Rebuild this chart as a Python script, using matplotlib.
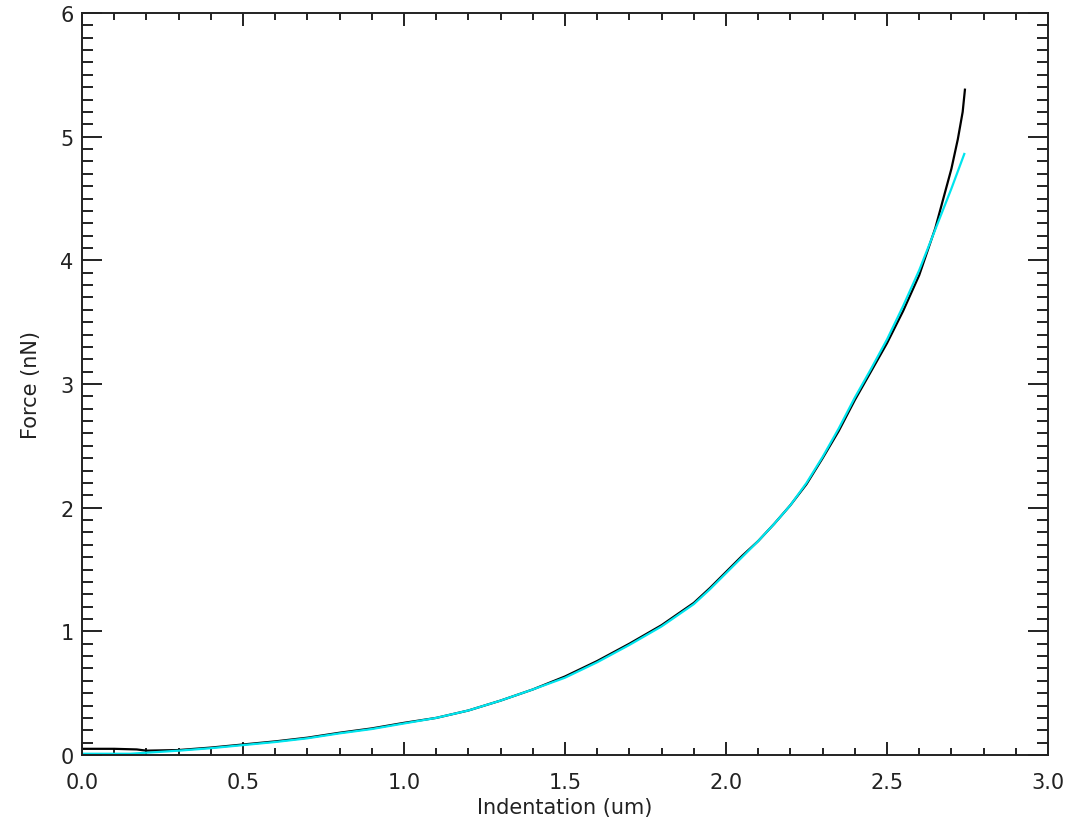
import matplotlib
matplotlib.use("Agg")
import matplotlib.pyplot as plt
from matplotlib.ticker import MultipleLocator

# measured force curve (black)
x_data = [0.0, 0.1, 0.17, 0.2, 0.3, 0.4, 0.5, 0.6, 0.7, 0.8, 0.9, 1.0, 1.1, 1.2,
          1.3, 1.4, 1.5, 1.6, 1.7, 1.8, 1.9, 1.95, 2.0, 2.05, 2.1, 2.15, 2.2,
          2.25, 2.3, 2.35, 2.4, 2.45, 2.5, 2.55, 2.6, 2.65, 2.7, 2.72, 2.735,
          2.742]
f_data = [0.05, 0.05, 0.045, 0.035, 0.04, 0.06, 0.085, 0.11, 0.14, 0.18, 0.215,
          0.26, 0.30, 0.36, 0.44, 0.53, 0.635, 0.76, 0.90, 1.05, 1.23, 1.35,
          1.48, 1.61, 1.73, 1.87, 2.02, 2.19, 2.40, 2.62, 2.87, 3.10, 3.33,
          3.59, 3.88, 4.26, 4.74, 4.98, 5.2, 5.38]

# fitted curve (cyan)
x_fit = [0.0, 0.15, 0.3, 0.4, 0.5, 0.6, 0.7, 0.8, 0.9, 1.0, 1.1, 1.2, 1.3,
         1.4, 1.5, 1.6, 1.7, 1.8, 1.9, 1.95, 2.0, 2.05, 2.1, 2.15, 2.2, 2.25,
         2.3, 2.35, 2.4, 2.45, 2.5, 2.55, 2.6, 2.65, 2.7, 2.74]
f_fit = [0.01, 0.01, 0.035, 0.055, 0.08, 0.105, 0.135, 0.175, 0.21, 0.255,
         0.30, 0.36, 0.44, 0.53, 0.625, 0.75, 0.89, 1.04, 1.22, 1.34, 1.47,
         1.60, 1.73, 1.87, 2.02, 2.20, 2.41, 2.64, 2.89, 3.12, 3.36, 3.63,
         3.92, 4.25, 4.58, 4.86]

fig = plt.figure(figsize=(10.73, 8.29), dpi=100)
ax = fig.add_axes([82 / 1073, 1 - 756 / 829, 966 / 1073, 742 / 829])

ax.plot(x_data, f_data, color='black', lw=1.6)
ax.plot(x_fit, f_fit, color='#00e5ee', lw=1.6)

ax.set_xlim(0, 3)
ax.set_ylim(0, 6)
ax.xaxis.set_major_locator(MultipleLocator(0.5))
ax.xaxis.set_minor_locator(MultipleLocator(0.1))
ax.yaxis.set_major_locator(MultipleLocator(1))
ax.yaxis.set_minor_locator(MultipleLocator(0.1))
ax.xaxis.set_major_formatter(plt.FormatStrFormatter('%.1f'))
ax.yaxis.set_major_formatter(plt.FormatStrFormatter('%d'))

ax.tick_params(axis='x', which='both', direction='in', top=True, bottom=True,
               width=1.4, labelsize=15, pad=12, colors='#222222')
ax.tick_params(axis='x', which='major', length=9.5)
ax.tick_params(axis='x', which='minor', length=5)
ax.tick_params(axis='y', which='both', direction='in', left=True, right=True,
               width=1.4, labelsize=15, pad=6, colors='#222222')
ax.tick_params(axis='y', which='major', length=14.5)
ax.tick_params(axis='y', which='minor', length=8)
for s in ax.spines.values():
    s.set_linewidth(1.4)
    s.set_color('#222222')

ax.set_xlabel('Indentation (um)', fontsize=15, color='#222222', labelpad=4)
ax.set_ylabel('Force (nN)', fontsize=15, color='#222222', labelpad=14)

fig.savefig('out.png', dpi=100)
